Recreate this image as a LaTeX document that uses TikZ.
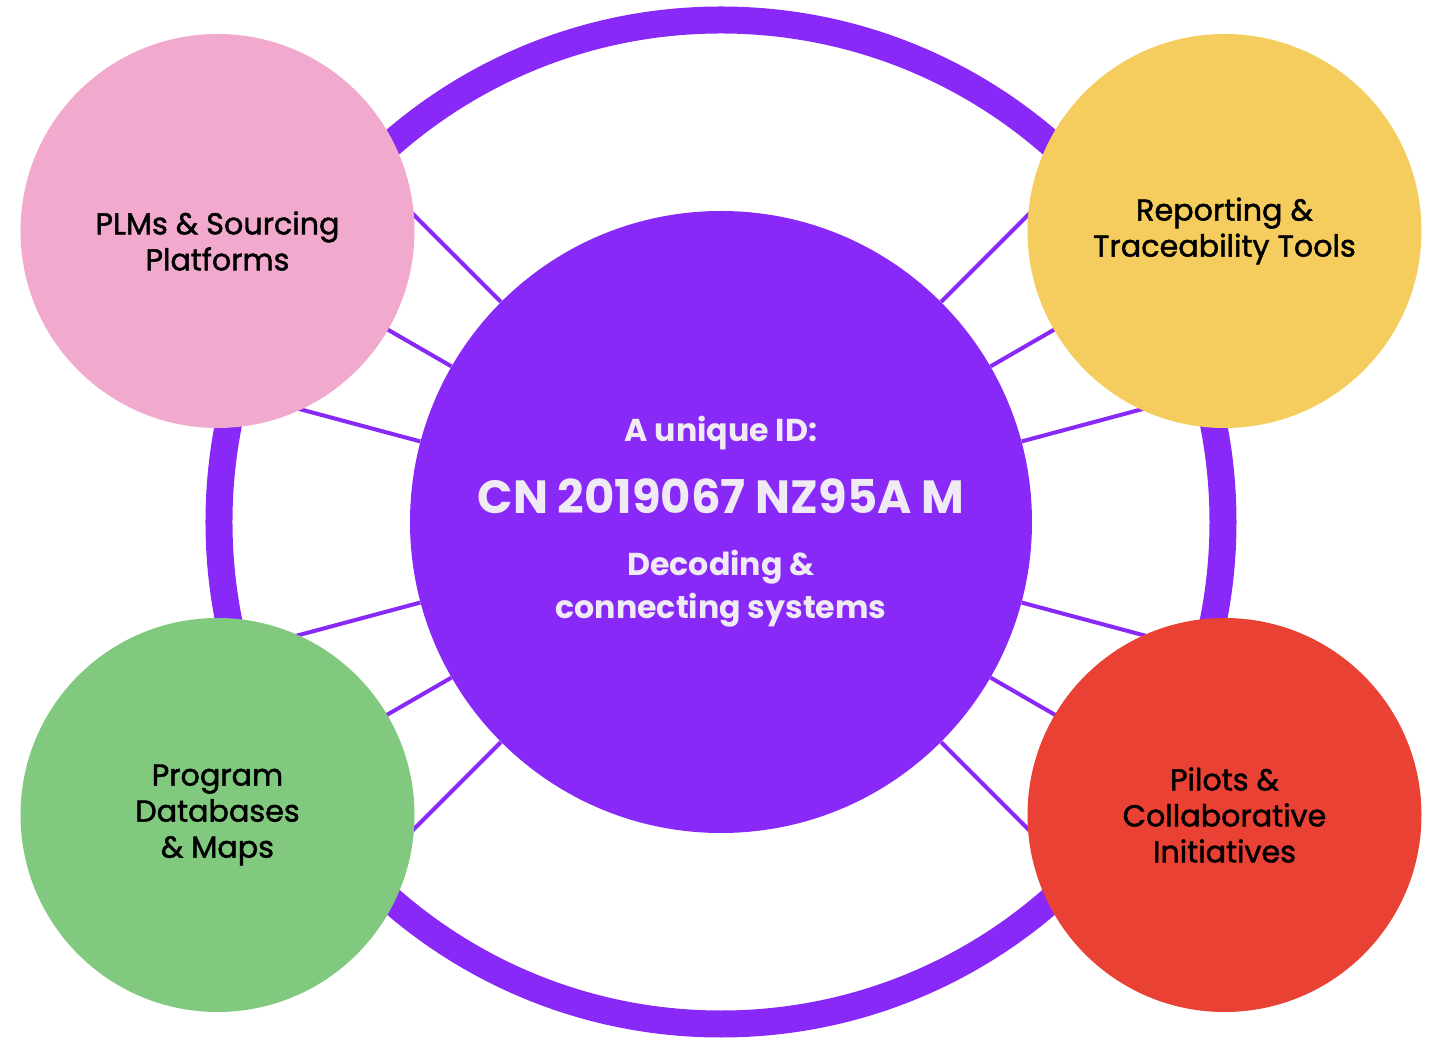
\documentclass[tikz,border=0pt]{standalone}
\usepackage{fontspec}
\setmainfont{Poppins}
\newfontfamily\topicfont{Poppins}[FakeBold=1.6]
\usetikzlibrary{positioning,calc,backgrounds}
\usepackage{xcolor}
\definecolor{idpurple}{RGB}{136,41,248}
\definecolor{plmpink}{RGB}{241,170,205}
\definecolor{toolyellow}{RGB}{245,205,94}
\definecolor{mapgreen}{RGB}{128,201,126}
\definecolor{pilotred}{RGB}{234,65,53}
\definecolor{idtext}{RGB}{239,234,243}

\begin{document}
\begin{tikzpicture}[
    hubcircle/.style={circle, fill=idpurple, minimum size=12.44cm, inner sep=0pt, text=idtext, align=center, font=\bfseries\fontsize{18}{24.5}\selectfont},
    topic/.style={circle, minimum size=7.88cm, inner sep=0pt, text=black, align=center, font=\topicfont\fontsize{17.2}{20.5}\selectfont},
    topictext/.style={text=black, align=center, inner sep=0pt, font=\topicfont\fontsize{17.2}{20.5}\selectfont},
    ring/.style={draw=idpurple, line width=0.54cm},
    link/.style={draw=idpurple, line width=0.08cm}]
    \useasboundingbox (-14.42,-10.32) rectangle (14.24,10.44);

    \node [hubcircle] (hub) at (0,0) {A unique ID:\\[15.3pt]
        {\fontsize{26.5}{24.5}\selectfont CN 2019067 NZ95A M}\\[10.8pt]
        Decoding \&\\
        connecting systems};

    \node [topic, fill=plmpink] (plm) at (-10.07,5.82) {};
    \node [topictext] (plmtext) at ([yshift=-0.2cm]plm.center) {PLMs \& Sourcing\\Platforms};
    \node [topic, fill=toolyellow] (tools) at (10.07,5.82) {Reporting \&\\Traceability Tools};
    \node [topic, fill=mapgreen] (maps) at (-10.07,-5.86) {Program\\Databases\\\& Maps};
    \node [topic, fill=pilotred] (pilots) at (10.07,-5.86) {Pilots \&\\Collaborative\\Initiatives};

    % ring and spokes sit behind the circles
    \begin{pgfonlayer}{background}
        \draw [ring] (hub.center) circle [radius=10.04cm];
        \foreach \a in {15,30,45,135,150,165,195,210,225,315,330,345}
            \draw [link] (hub.\a) -- ($(hub.center)+(\a:10.04cm)$);
    \end{pgfonlayer}
\end{tikzpicture}
\end{document}
